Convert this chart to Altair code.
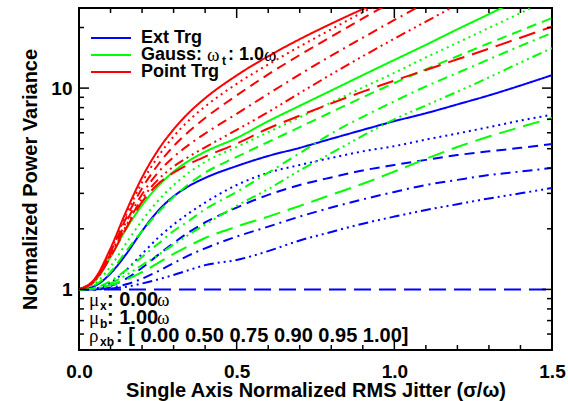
import altair as alt
import pandas as pd

# ---------------- data ----------------
X = [0, 0.05, 0.1, 0.15, 0.2, 0.25, 0.3, 0.35, 0.4, 0.5, 0.6, 0.7, 0.8, 0.9, 1.0, 1.1, 1.2, 1.3, 1.4, 1.5]
RHO = ["0.00", "0.50", "0.75", "0.90", "0.95", "1.00"]
TARGETS = ["Ext Trg", "Gauss", "Point Trg"]
COLORS = ["#0000ff", "#00ff00", "#ff0000"]

ext_000 = [1, 1.04, 1.2, 1.5, 1.95, 2.45, 2.9, 3.27, 3.58, 4.1, 4.6, 5.05, 5.6, 6.2, 6.85, 7.5, 8.3, 9.2, 10.3, 11.6]
ext_050 = [1, 1.01, 1.08, 1.25, 1.5, 1.8, 2.1, 2.4, 2.7, 3.3, 3.8, 4.15, 4.5, 4.85, 5.15, 5.55, 5.95, 6.4, 6.9, 7.37]
ext_075 = [1, 1.0, 1.04, 1.13, 1.28, 1.48, 1.7, 1.93, 2.15, 2.55, 2.95, 3.3, 3.6, 3.9, 4.15, 4.4, 4.65, 4.85, 5.05, 5.27]
ext_090 = [1, 1.0, 1.02, 1.06, 1.13, 1.23, 1.35, 1.48, 1.6, 1.83, 2.05, 2.3, 2.55, 2.8, 3.05, 3.3, 3.5, 3.7, 3.85, 4.01]
ext_095 = [1, 1.0, 1.01, 1.03, 1.07, 1.12, 1.18, 1.25, 1.32, 1.4, 1.55, 1.75, 1.93, 2.12, 2.3, 2.48, 2.65, 2.83, 3.0, 3.19]
ext_100 = [1, 1, 1, 1, 1, 1, 1, 1, 1, 1, 1, 1, 1, 1, 1, 1, 1, 1, 1, 1]

gau_000 = [1, 1.1, 1.45, 2.0, 2.62, 3.25, 3.85, 4.37, 4.83, 5.65, 6.85, 8.17, 9.73, 11.6, 13.8, 16.4, 19.6, 23.3, 27.8]
gau_050 = [1, 1.07, 1.3, 1.7, 2.2, 2.75, 3.3, 3.82, 4.3, 5.1, 6.04, 7.16, 8.49, 10.07, 11.9, 14.2, 16.8, 19.9, 23.6, 28]
gau_075 = [1, 1.05, 1.22, 1.55, 1.95, 2.4, 2.88, 3.35, 3.8, 4.55, 5.4, 6.4, 7.6, 9.0, 10.6, 12.4, 14.4, 16.7, 19.3, 22.3]
gau_090 = [1, 1.02, 1.1, 1.25, 1.45, 1.68, 1.95, 2.2, 2.5, 3.05, 3.8, 4.75, 5.95, 7.2, 8.6, 10.2, 11.9, 13.9, 16.2, 18.8]
gau_095 = [1, 1.01, 1.07, 1.18, 1.32, 1.48, 1.67, 1.88, 2.1, 2.6, 3.15, 3.9, 4.75, 5.8, 7.0, 8.2, 9.6, 11.3, 13.4, 15.8]
gau_100 = [1, 1.01, 1.05, 1.12, 1.22, 1.35, 1.5, 1.65, 1.8, 2.05, 2.3, 2.6, 2.95, 3.35, 3.85, 4.45, 5.1, 5.75, 6.4, 7.1]

pt_000 = [1, 1.13, 1.6, 2.45, 3.6, 4.9, 6.24, 7.59, 8.91, 11.56, 14.4, 17.5, 20.9, 24.7, 29]
pt_050 = [1, 1.12, 1.56, 2.36, 3.4, 4.55, 5.75, 6.95, 8.1, 10.5, 13.1, 16.1, 19.6, 23.8, 28.5]
pt_075 = [1, 1.12, 1.53, 2.27, 3.18, 4.15, 5.15, 6.12, 7.1, 9.2, 11.7, 14.6, 18.0, 22.2, 27.2]
pt_090 = [1, 1.11, 1.5, 2.17, 2.97, 3.8, 4.55, 5.25, 5.95, 7.45, 9.35, 11.7, 14.5, 17.8, 21.8, 26.5]
pt_095 = [1, 1.1, 1.46, 2.08, 2.82, 3.5, 4.08, 4.58, 5.08, 6.2, 7.6, 9.45, 11.7, 14.4, 17.6, 21.4, 26.0]
pt_100 = [1, 1.1, 1.45, 2.02, 2.72, 3.33, 3.8, 4.2, 4.57, 5.3, 6.3, 7.3, 8.4, 9.6, 10.9, 12.3, 13.9, 15.7, 17.8, 20.2]

SERIES = {
    "Ext Trg": [ext_000, ext_050, ext_075, ext_090, ext_095, ext_100],
    "Gauss": [gau_000, gau_050, gau_075, gau_090, gau_095, gau_100],
    "Point Trg": [pt_000, pt_050, pt_075, pt_090, pt_095, pt_100],
}

X_MAJOR = [0, 0.5, 1.0, 1.5]
X_MINOR = [0.1, 0.2, 0.3, 0.4, 0.6, 0.7, 0.8, 0.9, 1.1, 1.2, 1.3, 1.4]
Y_MAJOR = [1, 10]
Y_MINOR = [0.5, 0.6, 0.7, 0.8, 0.9, 2, 3, 4, 5, 6, 7, 8, 9, 20]

X_TITLE = "Single Axis Normalized RMS Jitter (σ/ω)"
Y_TITLE = "Normalized Power Variance"

rows = []
for t in TARGETS:
    for r, vals in zip(RHO, SERIES[t]):
        for xv, yv in zip(X, vals):
            rows.append({"target": t, "rho": r, "x": xv, "v": yv})
df = pd.DataFrame(rows)

# ---------------- chart ----------------
W, H = 473, 342
SANS = "Liberation Sans"
SERIF = "Liberation Serif"

xs = alt.Scale(domain=[0, 1.5], nice=False, zero=False)
ys = alt.Scale(type="log", domain=[0.5, 25], nice=False)

x_axis = alt.Axis(values=X_MAJOR, format=".1f", ticks=False, domain=False, grid=False,
                  labelFlush=False, labelOverlap=False, labelFont=SANS, labelFontSize=19,
                  labelFontWeight="bold", labelColor="black", labelPadding=12,
                  title=X_TITLE, titleFont=SANS, titleFontSize=20,
                  titleFontWeight="bold", titleColor="black",
                  titleBaseline="alphabetic", titleY=46)
y_axis = alt.Axis(values=Y_MAJOR, format="d", ticks=False, domain=False, grid=False,
                  labelFlush=False, labelOverlap=False, labelFont=SANS, labelFontSize=19,
                  labelFontWeight="bold", labelColor="black", labelPadding=7,
                  title=Y_TITLE, titleFont=SANS, titleFontSize=20, titleFontWeight="bold",
                  titleColor="black", titlePadding=10)

XE = alt.X("x:Q", scale=xs, axis=x_axis, title=X_TITLE)
YE = alt.Y("v:Q", scale=ys, axis=y_axis, title=Y_TITLE)

dash_range = [[1, 0], [2, 4], [10, 6], [10, 5, 2, 5], [10, 4, 2, 4, 2, 4, 2, 4], [17, 8]]

layers = []
for t in TARGETS:
    layers.append(
        alt.Chart(df).transform_filter(alt.datum.target == t)
        .mark_line(clip=True, strokeWidth=2, interpolate="monotone")
        .encode(
            x=XE, y=YE,
            color=alt.Color("target:N", scale=alt.Scale(domain=TARGETS, range=COLORS), legend=None),
            strokeDash=alt.StrokeDash("rho:N", scale=alt.Scale(domain=RHO, range=dash_range), legend=None),
        )
    )

# ticks (inward, on all four sides)
def xticks(vals, length):
    d = pd.DataFrame({"x": vals})
    b = alt.Chart(d).mark_rule(color="black", strokeWidth=1.5)
    return [
        b.encode(x=XE, y=alt.value(H), y2=alt.value(H - length)),
        b.encode(x=XE, y=alt.value(0), y2=alt.value(length)),
    ]

def yticks(vals, length):
    d = pd.DataFrame({"v": vals})
    b = alt.Chart(d).mark_rule(color="black", strokeWidth=1.5)
    return [
        b.encode(y=YE, x=alt.value(0), x2=alt.value(length)),
        b.encode(y=YE, x=alt.value(W), x2=alt.value(W - length)),
    ]

layers += xticks(X_MAJOR, 10) + xticks(X_MINOR, 5) + yticks(Y_MAJOR, 10) + yticks(Y_MINOR, 5)

one = pd.DataFrame({"a": [0]})

def txt(s, x, y, size=18, bold=True, font=SANS, baseline="middle"):
    return alt.Chart(one).mark_text(
        align="left", baseline=baseline, font=font, fontSize=size,
        fontWeight="bold" if bold else "normal", color="black"
    ).encode(x=alt.value(x), y=alt.value(y), text=alt.value(s))

# legend
LEG_Y = [30, 47, 64]
for c, yy in zip(COLORS, LEG_Y):
    layers.append(alt.Chart(one).mark_rule(color=c, strokeWidth=2).encode(
        x=alt.value(12), x2=alt.value(52), y=alt.value(yy)))
layers.append(txt(TARGETS[0], 62, LEG_Y[0]))
layers.append(txt("Gauss:", 62, LEG_Y[1]))
layers.append(txt("ω", 128, LEG_Y[1], size=19, bold=False, font=SERIF))
layers.append(txt("t", 143, LEG_Y[1] + 6, size=12))
layers.append(txt(": 1.0", 149, LEG_Y[1]))
layers.append(txt("ω", 185, LEG_Y[1], size=19, bold=False, font=SERIF))
layers.append(txt(TARGETS[2], 62, LEG_Y[2]))

# parameter annotations
MU_X = "0.00"
MU_B = "1.00"
A_Y = [292, 310, 328]
layers.append(txt("μ", 10, A_Y[0], size=19, bold=False, font=SERIF))
layers.append(txt("x", 21, A_Y[0] + 6, size=12))
layers.append(txt(": " + MU_X, 28, A_Y[0], size=20))
layers.append(txt("ω", 78, A_Y[0], size=19, bold=False, font=SERIF))
layers.append(txt("μ", 10, A_Y[1], size=19, bold=False, font=SERIF))
layers.append(txt("b", 21, A_Y[1] + 6, size=12))
layers.append(txt(": " + MU_B, 28, A_Y[1], size=20))
layers.append(txt("ω", 78, A_Y[1], size=19, bold=False, font=SERIF))
layers.append(txt("ρ", 10, A_Y[2], size=19, bold=False, font=SERIF))
layers.append(txt("xb", 21, A_Y[2] + 6, size=12))
layers.append(txt(": [ " + " ".join(RHO) + "]", 37, A_Y[2], size=20))

chart = alt.layer(*layers).properties(
    width=W, height=H,
    background="white",
    autosize=alt.AutoSizeParams(type="none"),
    padding={"left": 79, "top": 8, "right": 16, "bottom": 51},
).configure_view(stroke="black", strokeWidth=2)

chart.save("out.html", embed_options={"renderer": "svg", "actions": False})
